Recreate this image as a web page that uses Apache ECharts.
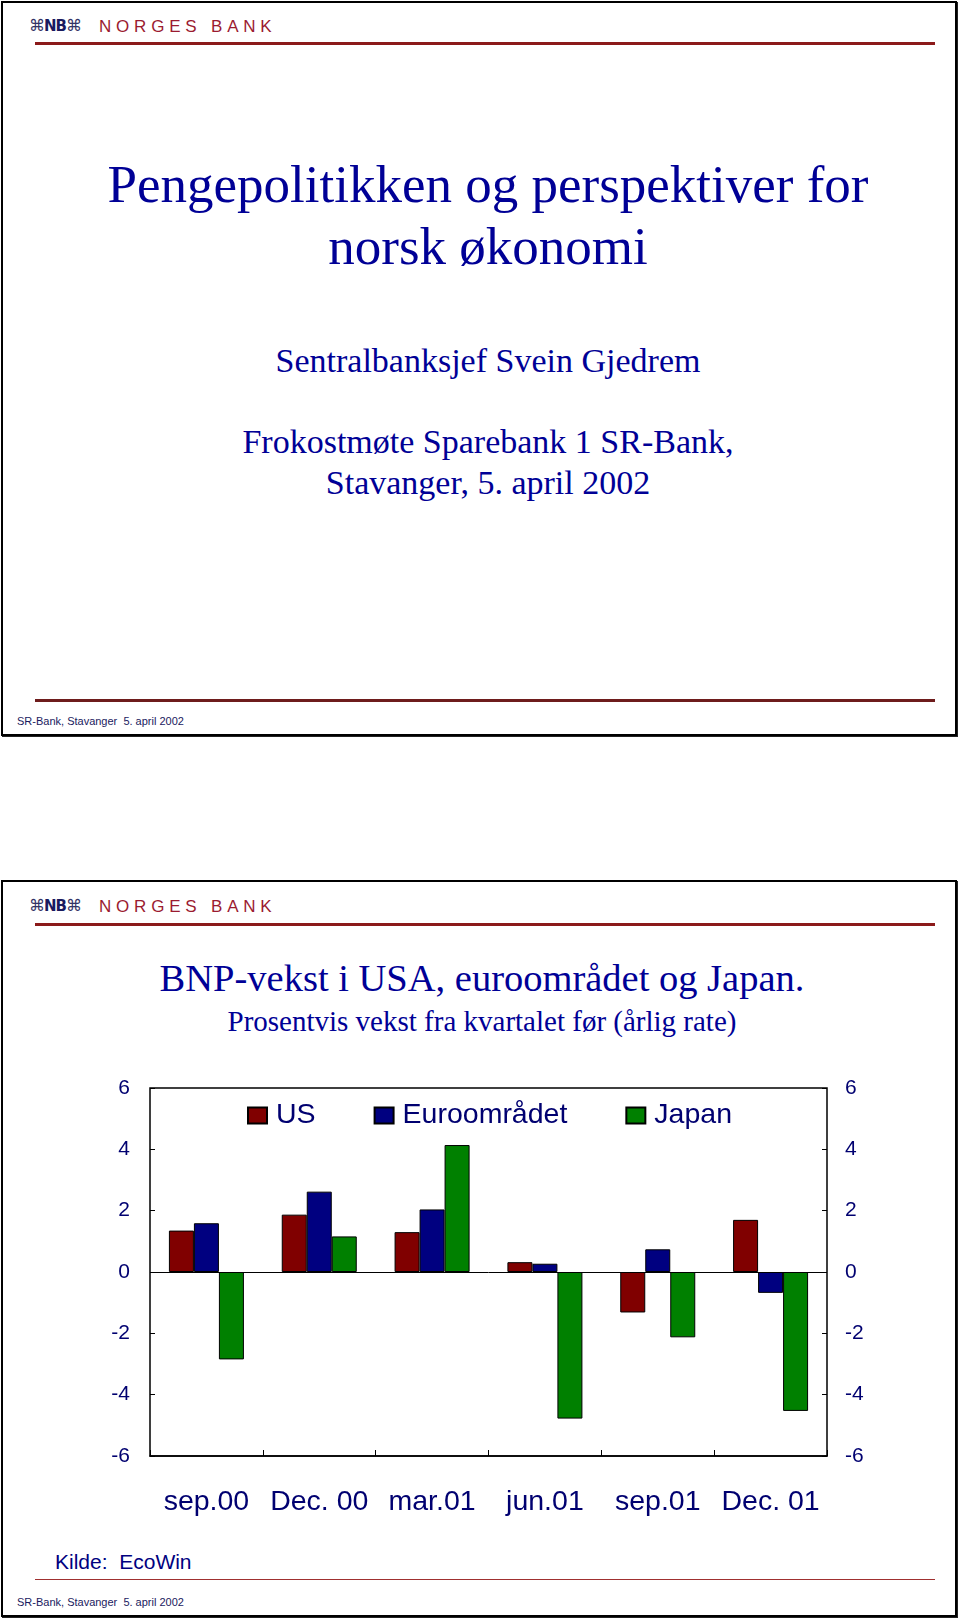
<!DOCTYPE html>
<html>
<head>
<meta charset="utf-8">
<script src="https://cdn.jsdelivr.net/npm/echarts@6/dist/echarts.min.js"></script>
<style>
  html, body { margin: 0; padding: 0; background: #fff; }
  body { width: 960px; height: 1620px; position: relative; overflow: hidden; }
  .box { position: absolute; border: 2px solid #000; box-shadow: 1px 1px 0 #222; background: #fff; }
  .abs { position: absolute; white-space: nowrap; }
  .serif { font-family: "Liberation Serif", "Times New Roman", serif; color: #000096; text-align: center; }
  .logo-nb { font-family: "DejaVu Sans", sans-serif; font-size: 15px; color: #1a1a5e; font-weight: bold; letter-spacing: -1px; }
  .logo-nb .orn { font-weight: normal; color: #333366; font-size: 16px; }
  .logo-txt { font-family: "Liberation Sans", Arial, sans-serif; font-size: 17px; color: #9b1b30; letter-spacing: 4.8px; }
  .redline { position: absolute; background: #8b1a1a; }
  .footer { font-family: "Liberation Sans", Arial, sans-serif; font-size: 11px; color: #1a1a60; }
</style>
</head>
<body>
<!-- Slide 1 -->
<div class="box" style="left:1px; top:1px; width:952px; height:731px;"></div>
<div class="abs logo-nb" style="left:29px; top:17px; line-height:18px;"><span class="orn">⌘</span>NB<span class="orn">⌘</span></div>
<div class="abs logo-txt" style="left:99px; top:17px; line-height:20px;">NORGES BANK</div>
<div class="redline" style="left:35px; top:42px; width:900px; height:3px;"></div>

<div class="abs serif" style="left:0; width:976px; top:153px; font-size:53px; line-height:62px;">Pengepolitikken og perspektiver for<br>norsk økonomi</div>
<div class="abs serif" style="left:0; width:976px; top:341px; font-size:34px; line-height:40px;">Sentralbanksjef Svein Gjedrem</div>
<div class="abs serif" style="left:0; width:976px; top:421px; font-size:34px; line-height:41px;">Frokostmøte Sparebank 1 SR-Bank,<br>Stavanger, 5. april 2002</div>

<div class="redline" style="left:35px; top:699px; width:900px; height:3px; background:#6e1c1c;"></div>
<div class="abs footer" style="left:17px; top:714px; line-height:14px;">SR-Bank, Stavanger&nbsp; 5. april 2002</div>

<!-- Slide 2 -->
<div class="box" style="left:1px; top:880px; width:952px; height:733px;"></div>
<div class="abs logo-nb" style="left:29px; top:897px; line-height:18px;"><span class="orn">⌘</span>NB<span class="orn">⌘</span></div>
<div class="abs logo-txt" style="left:99px; top:897px; line-height:20px;">NORGES BANK</div>
<div class="redline" style="left:35px; top:923px; width:900px; height:3px;"></div>

<div class="abs serif" style="left:0; width:964px; top:957px; font-size:38.5px; line-height:42px;">BNP-vekst i USA, euroområdet og Japan.</div>
<div class="abs serif" style="left:0; width:964px; top:1004px; font-size:29px; line-height:34px;">Prosentvis vekst fra kvartalet før (årlig rate)</div>

<div id="chart" style="position:absolute; left:0; top:1040px; width:960px; height:500px;"></div>

<div class="abs" style="left:55px; top:1549px; font-family:'Liberation Sans', Arial, sans-serif; font-size:21px; line-height:26px; color:#000080;">Kilde:&nbsp; EcoWin</div>
<div class="redline" style="left:35px; top:1579px; width:900px; height:1px; background:#a03030;"></div>
<div class="abs footer" style="left:17px; top:1595px; line-height:14px;">SR-Bank, Stavanger&nbsp; 5. april 2002</div>

<script>
// ---- Data ----
const categories = ['sep.00', 'Dec. 00', 'mar.01', 'jun.01', 'sep.01', 'Dec. 01'];
const seriesNames = ['US', 'Euroområdet', 'Japan'];
const usValues    = [1.35, 1.87, 1.30, 0.32, -1.32, 1.70];
const euroValues  = [1.59, 2.62, 2.04, 0.27, 0.74, -0.68];
const japanValues = [-2.85, 1.16, 4.14, -4.78, -2.13, -4.53];
const yMin = -6, yMax = 6, yStep = 2;

// ---- Style ----
const navy = '#000070';
const colors = ['#800000', '#000080', '#008000'];
const labelFont = '"Liberation Sans", Arial, sans-serif';

const chart = echarts.init(document.getElementById('chart'), null, { renderer: 'canvas' });

function yAxisDef(pos, margin) {
  return {
    type: 'value', position: pos, min: yMin, max: yMax, interval: yStep,
    axisLine: { show: false },
    axisTick: { show: true, inside: true, length: 5, lineStyle: { color: '#000', width: 1 } },
    splitLine: { show: false },
    axisLabel: { color: navy, fontSize: 21, fontFamily: labelFont, margin: margin }
  };
}

const values = [usValues, euroValues, japanValues];
const series = seriesNames.map((name, i) => ({
  name: name,
  type: 'bar',
  yAxisIndex: 0,
  data: values[i],
  barWidth: 25,
  barGap: '0%',
  itemStyle: { color: colors[i], borderColor: '#000', borderWidth: 1 },
  emphasis: { disabled: true }
}));
series[0].markLine = {
  silent: true, symbol: 'none', animation: false,
  label: { show: false },
  lineStyle: { color: '#000', width: 1, type: 'solid' },
  data: [{ yAxis: 0 }]
};

chart.setOption({
  animation: false,
  grid: { left: 150, right: 133, top: 48, height: 368, show: true, borderColor: '#000', borderWidth: 1.5, backgroundColor: 'transparent' },
  legend: {
    data: seriesNames,
    left: 247, top: 61, padding: 0,
    itemWidth: 19, itemHeight: 16, itemGap: 58,
    icon: 'rect',
    selectedMode: false,
    textStyle: { color: navy, fontSize: 28.5, fontFamily: labelFont, padding: [0, 0, 0, 4] }
  },
  xAxis: {
    type: 'category', data: categories, position: 'bottom',
    boundaryGap: true,
    axisLine: { show: true, onZero: false, lineStyle: { color: '#000', width: 1.5 } },
    axisTick: { show: true, inside: true, length: 6, lineStyle: { color: '#000' } },
    axisLabel: { color: navy, fontSize: 28.5, fontFamily: labelFont, margin: 32, interval: 0 },
    splitLine: { show: false }
  },
  yAxis: [yAxisDef('left', 20), yAxisDef('right', 18)],
  series: series.concat([{
    type: 'bar', yAxisIndex: 1, data: [], silent: true
  }])
});
</script>
</body>
</html>
